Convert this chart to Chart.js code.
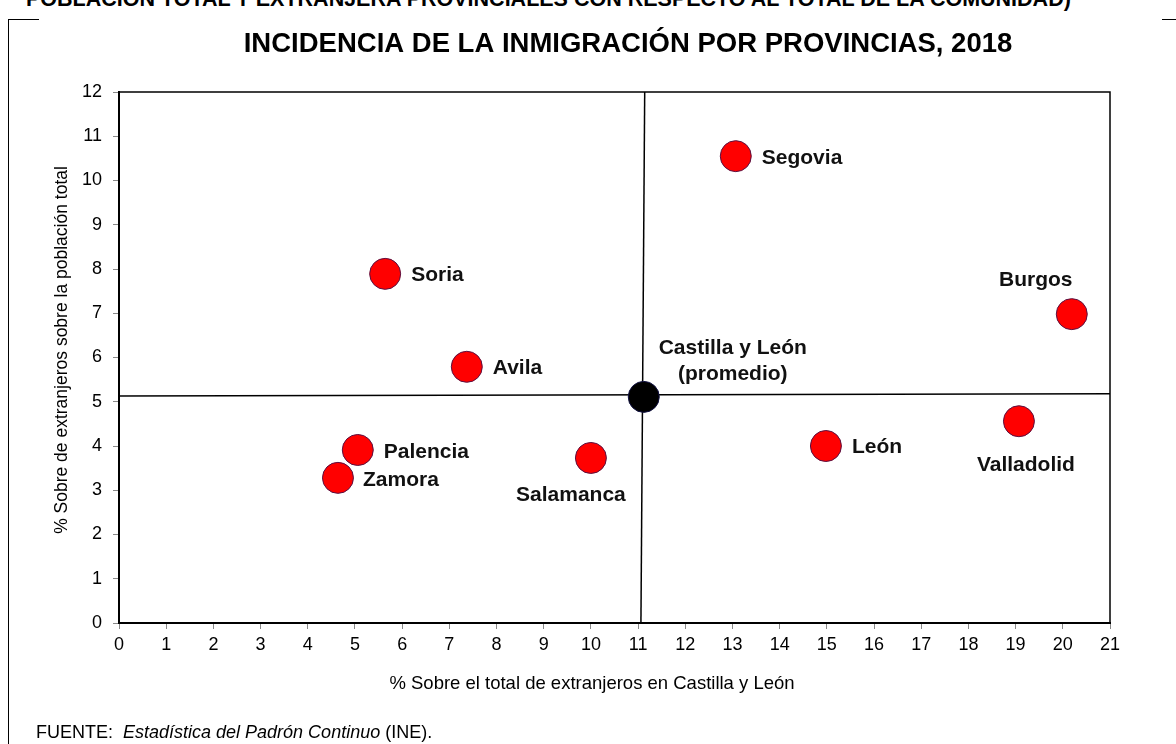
<!DOCTYPE html>
<html>
<head>
<meta charset="utf-8">
<script src="https://cdn.jsdelivr.net/npm/chart.js@4.4.1/dist/chart.umd.min.js"></script>
<style>
  html, body { margin: 0; padding: 0; background: #fff; }
  #wrap { position: relative; width: 1176px; height: 744px; overflow: hidden; font-family: "Liberation Sans", Arial, sans-serif; }
  #chart { position: absolute; left: 0; top: 0; }
  .top { position: absolute; left: 26px; top: -13px; font-weight: bold; font-size: 21.5px; white-space: nowrap; color: #000; }
  .frame-l { position: absolute; left: 8px; top: 19px; width: 30px; height: 760px; border-left: 1.5px solid #000; border-top: 1.5px solid #000; }
  .frame-r { position: absolute; left: 1162px; top: 19px; width: 20px; border-top: 1.5px solid #000; }
  .foot { position: absolute; left: 36px; top: 722px; font-size: 18px; color: #000; white-space: nowrap; }
</style>
</head>
<body>
<div id="wrap">
  <div class="top">POBLACIÓN TOTAL Y EXTRANJERA PROVINCIALES CON RESPECTO AL TOTAL DE LA COMUNIDAD)</div>
  <div class="frame-l"></div>
  <div class="frame-r"></div>
  <canvas id="chart" width="1176" height="744"></canvas>
  <div class="foot">FUENTE:&nbsp; <i>Estadística del Padrón Continuo</i> (INE).</div>
</div>
<script>
'use strict';

// provincias: % del total de extranjeros de CyL (x) y % de extranjeros sobre la poblacion (y)
const provincias = ['Segovia', 'Soria', 'Burgos', 'Avila', 'Palencia', 'Zamora', 'Salamanca', 'León', 'Valladolid'];
const pctTotalExtranjeros = [13.07, 5.64, 20.19, 7.37, 5.06, 4.64, 10.0, 14.98, 19.07];
const pctSobrePoblacion = [10.55, 7.89, 6.98, 5.79, 3.91, 3.28, 3.73, 4.0, 4.56];

const promedioNombre = ['Castilla y León', '(promedio)'];
const promedioX = 11.12;
const promedioY = 5.11;

// lineas de referencia (cruz del promedio)
const lineaVertX = [11.14, 11.06];
const lineaVertY = [12, 0];
const lineaHorX = [0, 21];
const lineaHorY = [5.13, 5.18];

const tituloX = '% Sobre el total de extranjeros en Castilla y León';
const tituloY = '% Sobre de extranjeros sobre la población total';

// colocacion de las etiquetas respecto al punto: [dx, dy, align]
const etiquetaPos = [
  [26, 2, 'left'], [26, 1, 'left'], [-36, -34, 'center'], [26, 1, 'left'],
  [26, 2, 'left'], [25, 2, 'left'], [-20, 37, 'center'], [26, 1, 'left'], [7, 44, 'center']
];

let puntos = [];
for (let i = 0; i < provincias.length; i++) {
  puntos.push({x: pctTotalExtranjeros[i], y: pctSobrePoblacion[i]});
}

const etiquetas = {
  id: 'etiquetas',
  afterDatasetsDraw(chart) {
    const ctx = chart.ctx;
    ctx.save();
    ctx.fillStyle = '#111';
    ctx.font = 'bold 21px "Liberation Sans", Arial, sans-serif';
    ctx.textBaseline = 'middle';
    const meta = chart.getDatasetMeta(0);
    meta.data.forEach(function (p, i) {
      const pos = etiquetaPos[i];
      ctx.textAlign = pos[2];
      ctx.fillText(provincias[i], p.x + pos[0], p.y + pos[1]);
    });
    const m = chart.getDatasetMeta(1).data[0];
    ctx.textAlign = 'center';
    ctx.fillText(promedioNombre[0], m.x + 89, m.y - 49);
    ctx.fillText(promedioNombre[1], m.x + 89, m.y - 23);
    ctx.restore();
  }
};

const marco = {
  id: 'marco',
  beforeDatasetsDraw(chart) {
    const a = chart.chartArea;
    const ctx = chart.ctx;
    ctx.save();
    ctx.strokeStyle = '#000';
    ctx.lineWidth = 1.5;
    ctx.strokeRect(a.left, a.top, a.right - a.left, a.bottom - a.top);
    ctx.restore();
  }
};

const textos = {
  id: 'textos',
  afterDraw(chart) {
    const c = chart.ctx;
    c.save();
    c.fillStyle = '#000';
    c.textAlign = 'center';
    c.textBaseline = 'middle';
    c.font = 'bold 27.5px "Liberation Sans", Arial, sans-serif';
    c.fillText('INCIDENCIA DE LA INMIGRACIÓN POR PROVINCIAS, 2018', 628, 44);
    c.font = '18.5px "Liberation Sans", Arial, sans-serif';
    c.fillText(tituloX, 592, 684);
    c.translate(62, 350);
    c.rotate(-Math.PI / 2);
    c.font = '17.5px "Liberation Sans", Arial, sans-serif';
    c.fillText(tituloY, 0, 0);
    c.restore();
  }
};

const ctx = document.getElementById('chart').getContext('2d');
const chart = new Chart(ctx, {
  type: 'scatter',
  data: {
    datasets: [
      {
        data: puntos,
        backgroundColor: '#ff0000',
        borderColor: '#5a1040',
        borderWidth: 1,
        pointRadius: 15.5,
        pointHoverRadius: 15.5
      },
      {
        data: [{x: promedioX, y: promedioY}],
        backgroundColor: '#000',
        borderColor: '#101040',
        borderWidth: 1,
        pointRadius: 15.5,
        pointHoverRadius: 15.5
      },
      {
        data: [{x: lineaVertX[0], y: lineaVertY[0]}, {x: lineaVertX[1], y: lineaVertY[1]}],
        showLine: true,
        borderColor: '#000',
        borderWidth: 1.5,
        pointRadius: 0
      },
      {
        data: [{x: lineaHorX[0], y: lineaHorY[0]}, {x: lineaHorX[1], y: lineaHorY[1]}],
        showLine: true,
        borderColor: '#000',
        borderWidth: 1.5,
        pointRadius: 0
      }
    ]
  },
  options: {
    responsive: false,
    animation: false,
    layout: { padding: { top: 92, right: 66, left: 0, bottom: 0 } },
    plugins: {
      legend: { display: false },
      tooltip: { enabled: false },
      title: { display: false }
    },
    scales: {
      x: {
        type: 'linear',
        min: 0,
        max: 21,
        afterFit: function (s) { s.height = 121; },
        ticks: { stepSize: 1, color: '#000', padding: 5, font: { size: 18, family: '"Liberation Sans", Arial, sans-serif' } },
        grid: { drawOnChartArea: false, color: '#888', tickLength: 6 },
        border: { color: '#000', width: 2 }
      },
      y: {
        type: 'linear',
        min: 0,
        max: 12,
        afterFit: function (s) { s.width = 119; },
        ticks: { stepSize: 1, color: '#000', padding: 11, font: { size: 18, family: '"Liberation Sans", Arial, sans-serif' } },
        grid: { drawOnChartArea: false, color: '#888', tickLength: 6 },
        border: { color: '#000', width: 2 }
      }
    }
  },
  plugins: [marco, etiquetas, textos]
});
</script>
</body>
</html>
